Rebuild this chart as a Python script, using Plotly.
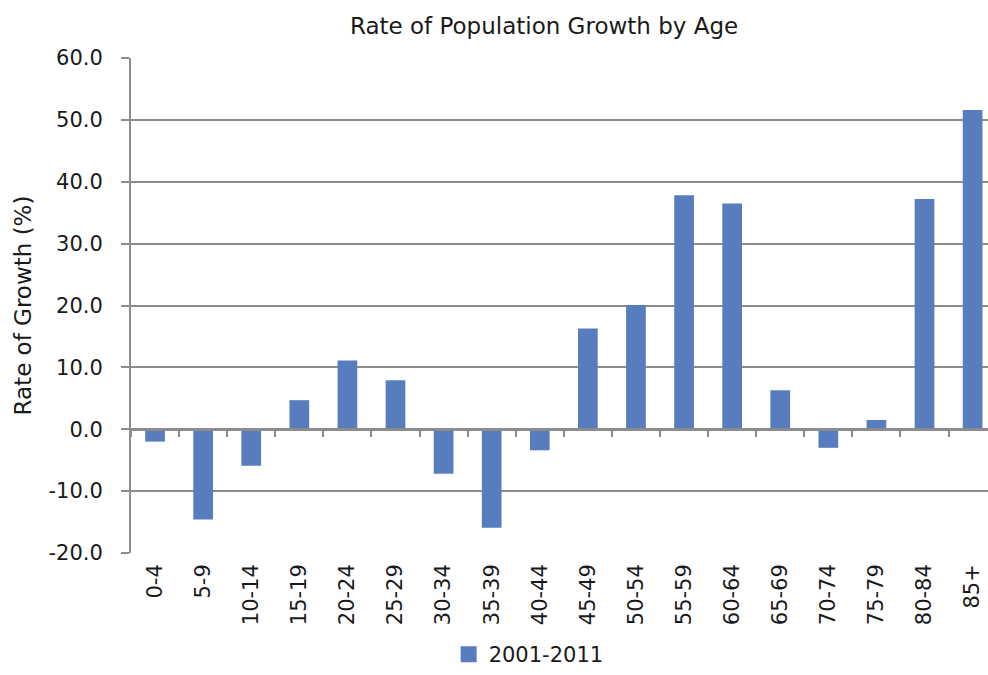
import plotly.graph_objects as go

categories = ["0-4", "5-9", "10-14", "15-19", "20-24", "25-29", "30-34", "35-39", "40-44",
              "45-49", "50-54", "55-59", "60-64", "65-69", "70-74", "75-79", "80-84", "85+"]
growth_2001_2011 = [-2.0, -14.6, -5.9, 4.7, 11.1, 7.9, -7.2, -15.9, -3.4,
                    16.3, 20.1, 37.8, 36.5, 6.3, -3.0, 1.5, 37.2, 51.6]
series_name = "2001-2011"
y_ticks = [-20, -10, 0, 10, 20, 30, 40, 50, 60]
y_tick_labels = ["-20.0", "-10.0", "0.0", "10.0", "20.0", "30.0", "40.0", "50.0", "60.0"]

BAR = "#587DBE"
GRID = "#8C8C8C"
FONT = "DejaVu Sans"
TXT = "#1a1a1a"

fig = go.Figure()
fig.add_trace(go.Bar(x=categories, y=growth_2001_2011, name=series_name, showlegend=False,
                     marker=dict(color=BAR, line=dict(width=0)), width=0.41))
# legend entry with a larger square swatch
fig.add_trace(go.Scatter(x=[None], y=[None], name=series_name, mode="markers",
                         marker=dict(symbol="square", size=17, color=BAR), showlegend=True))
# invisible helper trace to carry the zero-line axis with boundary ticks
fig.add_trace(go.Scatter(x=categories, y=growth_2001_2011, xaxis="x2", mode="markers",
                         marker=dict(opacity=0), showlegend=False, hoverinfo="skip"))

fig.update_layout(
    width=988, height=675,
    margin=dict(l=131, r=0, t=58, b=122, autoexpand=False),
    paper_bgcolor="white", plot_bgcolor="white",
    font=dict(family=FONT, color=TXT),
    title=dict(text="Rate of Population Growth by Age", x=0.482, xref="paper", xanchor="center",
               y=0.962, yref="container", yanchor="middle",
               font=dict(size=23, family=FONT, color=TXT)),
    showlegend=True,
    legend=dict(orientation="h", x=0.464, xanchor="center", y=0, yanchor="bottom",
                yref="container", font=dict(size=21, family=FONT, color=TXT), itemwidth=30,
                bgcolor="rgba(0,0,0,0)"),
    bargap=0.5,
    xaxis=dict(type="category", categoryorder="array", categoryarray=categories,
               range=[-0.5, 17.32], showgrid=False, zeroline=False, showline=False,
               ticks="", tickangle=-90, tickfont=dict(size=21, family=FONT, color=TXT),
               ticklabelstandoff=6, fixedrange=True, automargin=False),
    xaxis2=dict(type="category", categoryorder="array", categoryarray=categories,
                overlaying="x", matches="x", anchor="free", position=0.25,
                showline=True, linecolor=GRID, linewidth=3,
                ticks="outside", tickson="boundaries", ticklen=6, tickwidth=2, tickcolor=GRID,
                showticklabels=False, showgrid=False, zeroline=False, automargin=False),
    yaxis=dict(range=[-20, 60], tickvals=y_ticks, ticktext=y_tick_labels,
               showgrid=True, gridcolor=GRID, gridwidth=2,
               zeroline=False, showline=True, linecolor=GRID, linewidth=2,
               ticks="outside", ticklen=8, tickwidth=2, tickcolor=GRID,
               tickfont=dict(size=21, family=FONT, color=TXT),
               ticklabelstandoff=14, automargin=False,
               title=dict(text="Rate of Growth (%)", font=dict(size=23, family=FONT, color=TXT),
                          standoff=10)),
)

fig.write_html("out.html")
